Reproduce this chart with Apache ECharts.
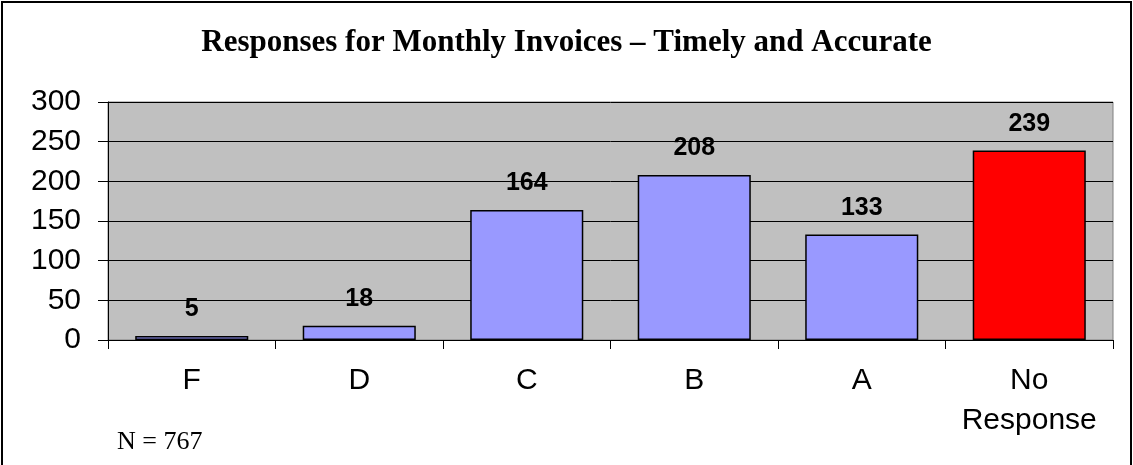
<!DOCTYPE html>
<html>
<head>
<meta charset="utf-8">
<script src="https://cdn.jsdelivr.net/npm/echarts@6/dist/echarts.min.js"></script>
<style>
  html, body { margin: 0; padding: 0; background: #fff; }
  #chart { width: 1133px; height: 465px; }
</style>
</head>
<body>
<div id="chart"></div>
<script>
const titleText = 'Responses for Monthly Invoices \u2013 Timely and Accurate'
const categories = ['F', 'D', 'C', 'B', 'A', 'No\nResponse']
const responses = [5, 18, 164, 208, 133, 239]
const yTicks = { min: 0, max: 300, step: 50 }
const noteText = 'N = 767'

const chart = echarts.init(document.getElementById('chart'), null, { renderer: 'canvas' })

// the last category (no response) is drawn in red
const barData = responses.map((v, i) => ({
  value: v,
  itemStyle: { color: categories[i].startsWith('No') ? '#FF0000' : '#9999FF' },
}))

chart.setOption({
  animation: false,
  backgroundColor: '#fff',
  title: {
    text: titleText,
    left: 'center',
    top: 22,
    textStyle: {
      fontFamily: 'Liberation Serif',
      fontWeight: 'bold',
      fontSize: 31,
      color: '#000',
    },
  },
  grid: {
    left: 108,
    right: 20,
    top: 102,
    bottom: 125,
    show: true,
    backgroundColor: '#C0C0C0',
    borderColor: '#808080',
    borderWidth: 1,
  },
  xAxis: {
    type: 'category',
    data: categories,
    axisLine: { show: true, lineStyle: { color: '#000', width: 1 } },
    axisTick: { show: true, length: 9, lineStyle: { color: '#000' } },
    axisLabel: {
      fontFamily: 'Liberation Sans',
      fontSize: 30,
      color: '#000',
      lineHeight: 40,
      margin: 21,
      interval: 0,
    },
  },
  yAxis: {
    type: 'value',
    min: yTicks.min,
    max: yTicks.max,
    interval: yTicks.step,
    axisLine: { show: true, lineStyle: { color: '#000', width: 1 } },
    axisTick: { show: true, length: 10, lineStyle: { color: '#000' } },
    splitLine: { show: true, lineStyle: { color: '#000', width: 1 } },
    axisLabel: {
      fontFamily: 'Liberation Sans',
      fontSize: 30,
      color: '#000',
      margin: 27,
    },
  },
  series: [
    {
      type: 'bar',
      data: barData,
      barCategoryGap: '32.5%',
      itemStyle: { borderColor: '#000', borderWidth: 1.5 },
      label: {
        show: true,
        position: 'top',
        distance: 14,
        fontFamily: 'Liberation Sans',
        fontWeight: 'bold',
        fontSize: 25,
        color: '#000',
      },
    },
  ],
  graphic: [
    {
      type: 'rect',
      shape: { x: 2, y: 2, width: 1129, height: 480 },
      style: { fill: 'none', stroke: '#000', lineWidth: 2 },
      z: 100,
    },
    {
      type: 'text',
      left: 117,
      top: 429,
      style: {
        text: noteText,
        font: '26px "Liberation Serif"',
        fill: '#000',
      },
    },
  ],
})
</script>
</body>
</html>
